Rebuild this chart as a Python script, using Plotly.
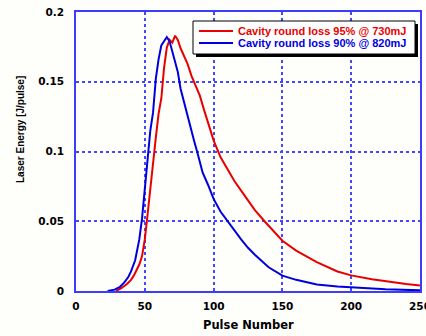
import plotly.graph_objects as go

# ---- data ----
red_x = [29, 33, 37, 40, 42, 44, 46, 48, 50, 51.5, 53, 55, 56.5, 58, 60, 62, 64, 66, 68, 70,
         72, 74, 76, 78, 81, 84, 87, 90, 93, 96, 100, 105, 110, 115, 120, 125, 130, 137, 145,
         150, 160, 175, 190, 200, 215, 225, 240, 250]
red_y = [0.0, 0.002, 0.005, 0.008, 0.011, 0.015, 0.019, 0.025, 0.037, 0.050, 0.064, 0.087,
         0.096, 0.110, 0.127, 0.138, 0.160, 0.1745, 0.180, 0.178, 0.183, 0.180, 0.174, 0.170,
         0.163, 0.154, 0.147, 0.140, 0.130, 0.120, 0.108, 0.096, 0.087, 0.079, 0.072, 0.065,
         0.058, 0.050, 0.041, 0.036, 0.029, 0.0207, 0.014, 0.0112, 0.0085, 0.0069, 0.005, 0.004]

blue_x = [23, 28, 32, 35, 38, 40, 43, 46, 48, 50, 52, 54, 56, 58, 60, 62, 64, 66, 68, 70, 72,
          74, 76, 78, 80, 83, 86, 88, 92, 96, 100, 105, 111, 115, 120, 125, 130, 140, 150, 160,
          175, 190, 200, 225, 250]
blue_y = [0.0, 0.001, 0.003, 0.006, 0.010, 0.014, 0.022, 0.037, 0.052, 0.075, 0.097, 0.115,
          0.128, 0.152, 0.166, 0.176, 0.179, 0.182, 0.179, 0.172, 0.165, 0.157, 0.145, 0.137,
          0.130, 0.117, 0.107, 0.100, 0.085, 0.076, 0.066, 0.057, 0.049, 0.043, 0.037, 0.031,
          0.026, 0.017, 0.011, 0.008, 0.0047, 0.0033, 0.0026, 0.0012, 0.0005]

red_name = "Cavity round loss 95% @ 730mJ"
blue_name = "Cavity round loss 90% @ 820mJ"
x_ticks = [0, 50, 100, 150, 200, 250]
y_ticks = [0, 0.05, 0.1, 0.15, 0.2]
x_title = "Pulse Number"
y_title = "Laser Energy [J/pulse]"

RED = "#e80000"
BLUE = "#0000dd"
AXIS_BLUE = "#3c3cff"
GRID_BLUE = "#4646ff"
BG = "#fefefb"

W, H = 426, 336
L, R, T, B = 76, 6, 12, 45
PW, PH = W - L - R, H - T - B


def px(xpix):
    return (xpix - L) / PW


def py(ypix):
    return (H - B - ypix) / PH


fig = go.Figure()
fig.add_trace(go.Scatter(x=red_x, y=red_y, mode="lines", name=red_name,
                         line=dict(color=RED, width=2), showlegend=False))
fig.add_trace(go.Scatter(x=blue_x, y=blue_y, mode="lines", name=blue_name,
                         line=dict(color=BLUE, width=2), showlegend=False))

tickfont = dict(family="DejaVu Sans", size=10.5, color="black", weight="bold")
common = dict(showline=True, mirror=True, linecolor=AXIS_BLUE, linewidth=1.5, showgrid=True,
              gridcolor=GRID_BLUE, griddash="dot", gridwidth=1.5, zeroline=False, ticks="",
              tickfont=tickfont, ticklabeloverflow="allow", automargin=False)
fig.update_xaxes(range=[0, 250], tickvals=x_ticks, ticklabelstandoff=5, **common)
fig.update_yaxes(range=[0, 0.2], tickvals=y_ticks, ticklabelstandoff=8, **common)

# legend (drawn with shadow like the original)
shapes = [
    dict(type="rect", xref="paper", yref="paper", x0=px(196), x1=px(418), y0=py(57), y1=py(24),
         fillcolor="black", line=dict(width=0), layer="above"),
    dict(type="rect", xref="paper", yref="paper", x0=px(193), x1=px(415), y0=py(54), y1=py(21),
         fillcolor="white", line=dict(color="black", width=1), layer="above"),
    dict(type="line", xref="paper", yref="paper", x0=px(199), x1=px(233), y0=py(31), y1=py(31),
         line=dict(color=RED, width=2), layer="above"),
    dict(type="line", xref="paper", yref="paper", x0=px(199), x1=px(233), y0=py(43), y1=py(43),
         line=dict(color=BLUE, width=2), layer="above"),
]
legfont = dict(family="Liberation Sans", size=11, weight="bold")
annotations = [
    dict(text=red_name, xref="paper", yref="paper", x=px(236), y=py(31), xanchor="left",
         yanchor="middle", showarrow=False, font=dict(legfont, color=RED)),
    dict(text=blue_name, xref="paper", yref="paper", x=px(236), y=py(43), xanchor="left",
         yanchor="middle", showarrow=False, font=dict(legfont, color=BLUE)),
    dict(text=x_title, xref="paper", yref="paper", x=0.5, y=py(325), xanchor="center",
         yanchor="middle", showarrow=False,
         font=dict(family="DejaVu Sans", size=11.5, color="black", weight="bold")),
    dict(text=y_title, xref="paper", yref="paper", x=px(20), y=py(129), xanchor="center",
         yanchor="middle", showarrow=False, textangle=-90,
         font=dict(family="Liberation Sans", size=10, color="black", weight="bold")),
]

fig.update_layout(width=W, height=H, margin=dict(l=L, r=R, t=T, b=B, autoexpand=False),
                  paper_bgcolor=BG, plot_bgcolor=BG, shapes=shapes, annotations=annotations,
                  showlegend=False)

fig.write_html("out.html", config={"displayModeBar": False},
               post_script="document.body.style.margin='0px';document.body.style.overflow='hidden';")
